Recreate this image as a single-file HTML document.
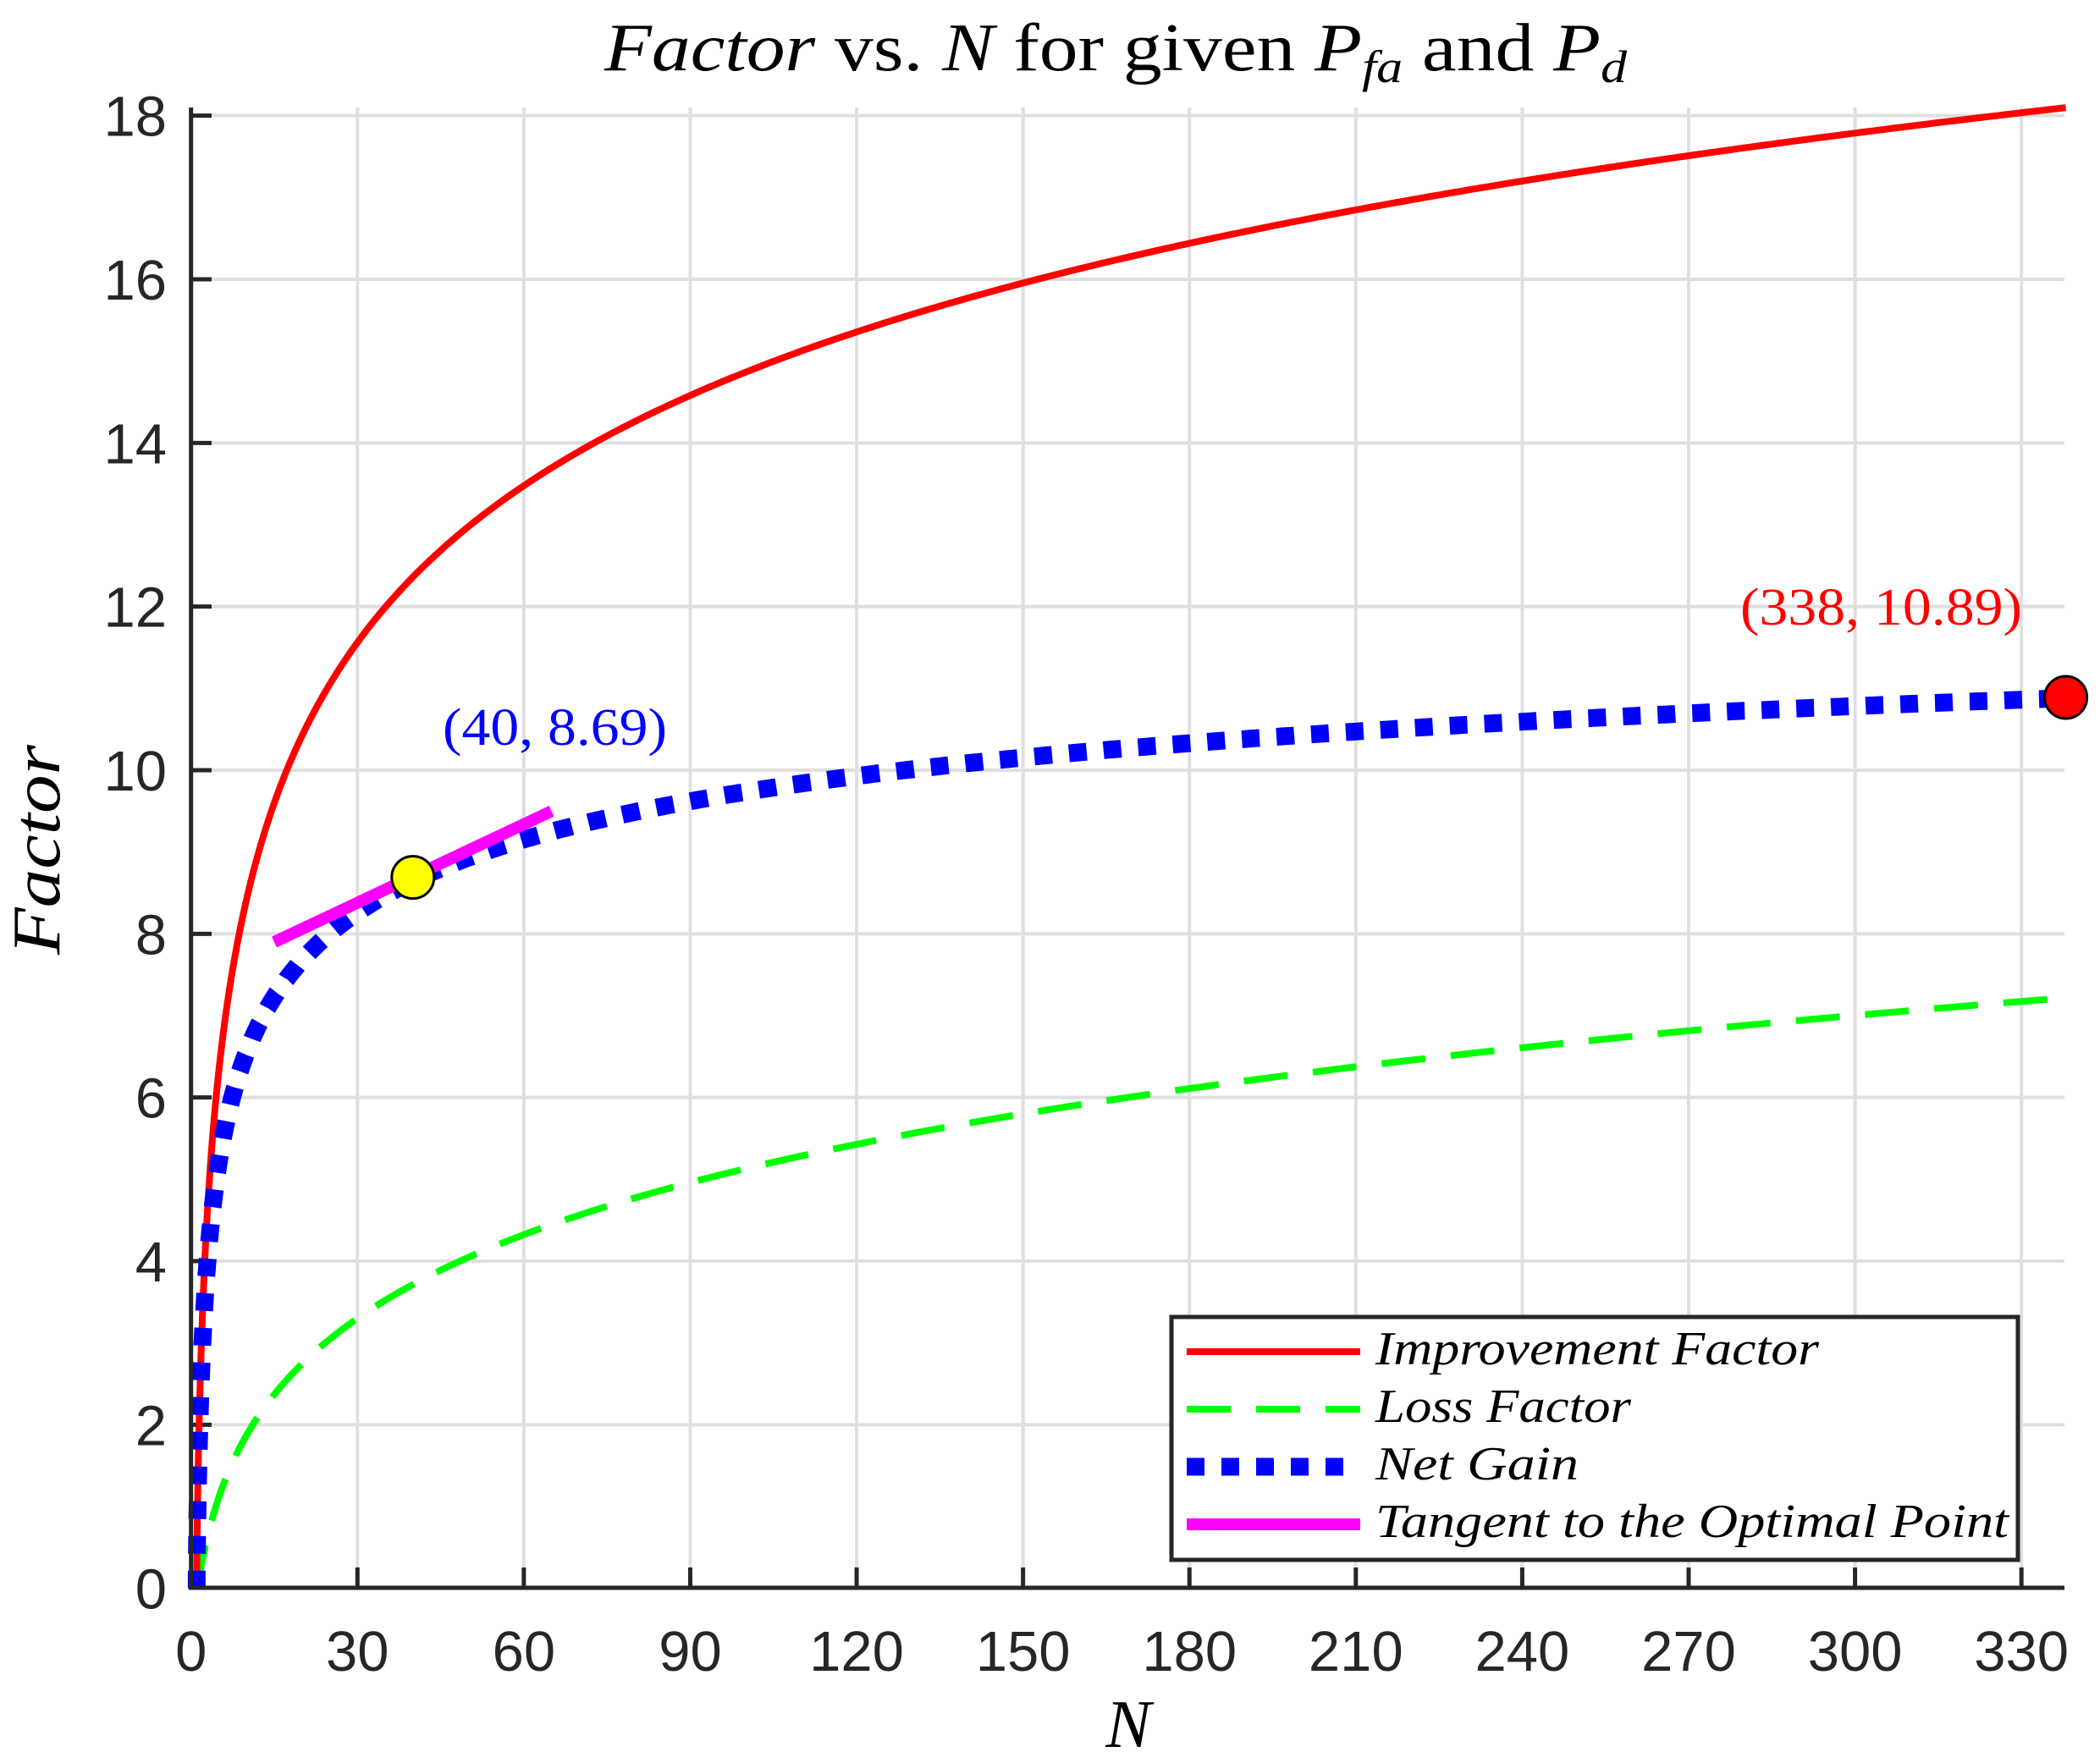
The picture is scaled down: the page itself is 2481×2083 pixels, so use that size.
<!DOCTYPE html>
<html><head><meta charset="utf-8"><style>
html,body{margin:0;padding:0;background:#fff;}
svg{display:block;}
.tk{font-family:"Liberation Sans",sans-serif;font-size:67px;fill:#262626;}
.it{font-family:"Liberation Serif",serif;font-style:italic;}
.rm{font-family:"Liberation Serif",serif;}
</style></head><body>
<svg id="s" width="2481" height="2083" viewBox="0 0 2481 2083" xmlns="http://www.w3.org/2000/svg">
<g id="grid" stroke="#dfdfdf" stroke-width="4"></g>
<g id="ticks" stroke="#262626" stroke-width="5"></g>
<g id="labels"></g>
<g id="curves" fill="none"></g>
<line x1="225.7" y1="127" x2="225.7" y2="1877" stroke="#262626" stroke-width="5"/>
<line x1="223" y1="1876" x2="2439" y2="1876" stroke="#262626" stroke-width="5"/>
<text x="714" y="83" font-size="80" class="rm" fill="#000" textLength="1208" lengthAdjust="spacingAndGlyphs"><tspan class="it">Factor</tspan> vs. <tspan class="it">N</tspan> for given <tspan class="it">P</tspan><tspan class="it" font-size="54" dy="14">fa</tspan><tspan dy="-14"> and </tspan><tspan class="it">P</tspan><tspan class="it" font-size="54" dy="14">d</tspan></text>
<text transform="translate(70,1004) rotate(-90)" text-anchor="middle" font-size="80" class="it" fill="#000" textLength="248" lengthAdjust="spacingAndGlyphs">Factor</text>
<text x="1333" y="2064" text-anchor="middle" font-size="80" class="it" fill="#000">N</text>
<text x="523" y="880" font-size="62" class="rm" fill="#0000ff" textLength="265" lengthAdjust="spacingAndGlyphs">(40, 8.69)</text>
<text x="2056" y="738" font-size="62" class="rm" fill="#ff0000" textLength="333" lengthAdjust="spacingAndGlyphs">(338, 10.89)</text>
<rect x="1384" y="1556" width="1000" height="287" fill="#fff" stroke="#262626" stroke-width="5"/>
<line x1="1402" y1="1597" x2="1607" y2="1597" stroke="#ff0000" stroke-width="8"/>
<line x1="1402" y1="1665" x2="1607" y2="1665" stroke="#00ff00" stroke-width="8" stroke-dasharray="52 30"/>
<line x1="1402" y1="1733" x2="1607" y2="1733" stroke="#0000ff" stroke-width="21" stroke-dasharray="21 20"/>
<line x1="1402" y1="1801" x2="1607" y2="1801" stroke="#ff00ff" stroke-width="14"/>
<g class="it" font-size="56" fill="#000">
<text x="1625" y="1612" textLength="524" lengthAdjust="spacingAndGlyphs">Improvement Factor</text>
<text x="1625" y="1680" textLength="302" lengthAdjust="spacingAndGlyphs">Loss Factor</text>
<text x="1625" y="1748" textLength="240" lengthAdjust="spacingAndGlyphs">Net Gain</text>
<text x="1625" y="1816" textLength="748" lengthAdjust="spacingAndGlyphs">Tangent to the Optimal Point</text>
</g>
</svg>
<script>
var NS="http://www.w3.org/2000/svg";
function X(n){return 225.7+6.553*n;}
function Y(v){return 1876.7-96.67*v;}
function el(p,tag,a,txt){var e=document.createElementNS(NS,tag);for(var k in a)e.setAttribute(k,a[k]);if(txt!==undefined)e.textContent=txt;p.appendChild(e);return e;}
var g=document.getElementById('grid'),t=document.getElementById('ticks'),L=document.getElementById('labels'),C=document.getElementById('curves');
for(var n=30;n<=330;n+=30){el(g,'line',{x1:X(n),y1:127,x2:X(n),y2:1876});el(t,'line',{x1:X(n),y1:1876,x2:X(n),y2:1852});}
for(var v=2;v<=18;v+=2){el(g,'line',{x1:226,y1:Y(v),x2:2439,y2:Y(v)});el(t,'line',{x1:226,y1:Y(v),x2:250,y2:Y(v)});}
for(var n=0;n<=330;n+=30){el(L,'text',{x:X(n),y:1974,'text-anchor':'middle','class':'tk'},String(n));}
for(var v=0;v<=18;v+=2){el(L,'text',{x:197,y:Y(v)+24,'text-anchor':'end','class':'tk'},String(v));}
function I(n){var l=Math.log(n);return 4.46*Math.pow(l,0.795)-0.25*Math.sin(Math.PI*Math.min(l/5.823,1));}
function Lf(n){var l=Math.log(n);return 0.556*Math.pow(l,1.455);}
function path(f,n0,n1){var d="";for(var n=n0;n<=n1+1e-9;n+=(n<20?0.05:1)){d+=(d?"L":"M")+X(n).toFixed(1)+","+Y(f(n)).toFixed(1);}return d;}
el(C,'path',{d:path(Lf,1,335),stroke:'#00ff00','stroke-width':8,'stroke-dasharray':'52 30'});
el(C,'path',{d:path(I,1,338),stroke:'#ff0000','stroke-width':8});
el(C,'path',{d:path(function(n){return I(n)-Lf(n);},1,338),stroke:'#0000ff','stroke-width':21,'stroke-dasharray':'21 20'});
el(C,'line',{x1:X(15),y1:Y(7.9),x2:X(65),y2:Y(9.5),stroke:'#ff00ff','stroke-width':14});
el(C,'circle',{cx:X(40),cy:Y(8.69),r:25,fill:'#ffff00',stroke:'#000','stroke-width':3});
el(C,'circle',{cx:X(338),cy:Y(10.89),r:25,fill:'#ff0000',stroke:'#000','stroke-width':3});
</script>
</body></html>
